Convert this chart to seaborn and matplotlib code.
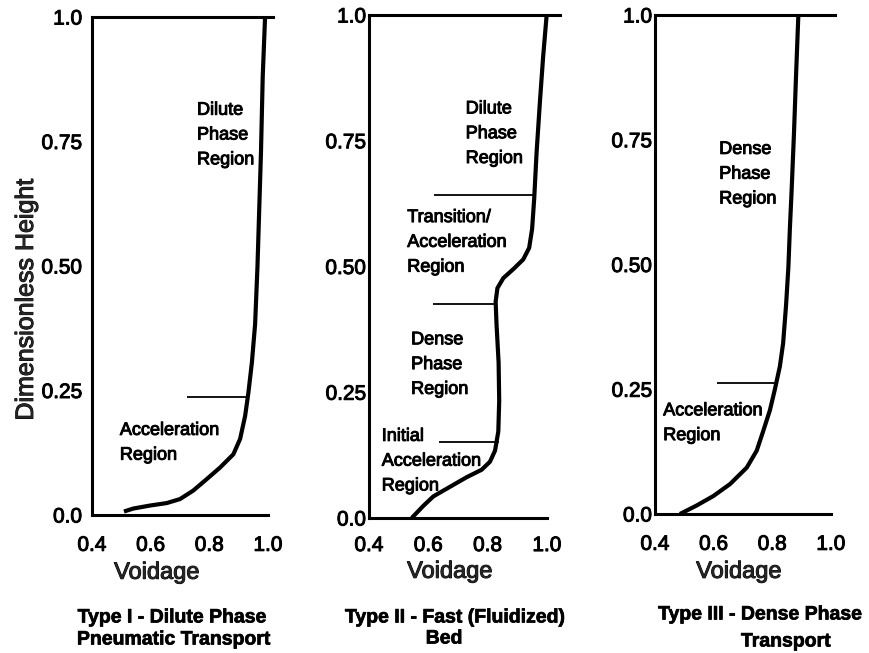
import matplotlib
matplotlib.use("Agg")
import matplotlib.pyplot as plt
import matplotlib.patheffects as pe
from matplotlib import font_manager
import seaborn as sns
import pandas as pd

# ---- Voidage profiles along the riser (x = voidage, y = dimensionless height) ----
type1_voidage = [0.509, 0.541, 0.598, 0.655, 0.700, 0.745, 0.791, 0.836, 0.882, 0.905,
                 0.922, 0.933, 0.945, 0.956, 0.964, 0.970, 0.976, 0.982, 0.990]
type1_height = [0.007, 0.013, 0.019, 0.024, 0.032, 0.049, 0.072, 0.095, 0.122, 0.153,
                0.199, 0.245, 0.306, 0.383, 0.498, 0.613, 0.728, 0.881, 1.0]

type2_voidage = [0.544, 0.583, 0.617, 0.673, 0.729, 0.780, 0.808, 0.825, 0.836, 0.839,
                 0.837, 0.830, 0.827, 0.833, 0.853, 0.887, 0.920, 0.940, 0.950, 0.957,
                 0.965, 0.976, 0.987, 0.999]
type2_height = [0.0, 0.024, 0.043, 0.062, 0.081, 0.096, 0.112, 0.134, 0.172, 0.233,
                0.309, 0.385, 0.430, 0.457, 0.477, 0.495, 0.514, 0.537, 0.575, 0.635,
                0.726, 0.825, 0.916, 1.0]

type3_voidage = [0.485, 0.542, 0.599, 0.656, 0.713, 0.747, 0.769, 0.792, 0.809, 0.826,
                 0.837, 0.847, 0.855, 0.860, 0.866, 0.874, 0.881, 0.889]
type3_height = [0.0, 0.017, 0.036, 0.060, 0.093, 0.127, 0.166, 0.208, 0.250, 0.296,
                0.342, 0.418, 0.495, 0.571, 0.648, 0.762, 0.877, 1.0]

# ---- Region boundaries: height, start voidage, end voidage ----
type1_bounds = [(0.237, 0.724, 0.930)]
type2_bounds = [(0.643, 0.620, 0.956), (0.425, 0.615, 0.828), (0.152, 0.637, 0.839)]
type3_bounds = [(0.263, 0.610, 0.813)]

# ---- Region names: text, left voidage, centre height ----
type1_regions = [("Dilute\nPhase\nRegion", 0.758, 0.763),
                 ("Acceleration\nRegion", 0.495, 0.145)]
type2_regions = [("Dilute\nPhase\nRegion", 0.726, 0.764),
                 ("Transition/\nAcceleration\nRegion", 0.529, 0.548),
                 ("Dense\nPhase\nRegion", 0.542, 0.305),
                 ("Initial\nAcceleration\nRegion", 0.443, 0.113)]
type3_regions = [("Dense\nPhase\nRegion", 0.619, 0.681),
                 ("Acceleration\nRegion", 0.428, 0.182)]

# ---- Axis ticks ----
x_ticks = [0.4, 0.6, 0.8, 1.0]
x_tick_labels = ["0.4", "0.6", "0.8", "1.0"]
y_ticks = [0.0, 0.25, 0.50, 0.75, 1.0]
y_tick_labels = ["0.0", "0.25", "0.50", "0.75", "1.0"]

x_title = "Voidage"
y_title = "Dimensionless Height"

captions = [("Type I - Dilute Phase", "Pneumatic Transport"),
            ("Type II - Fast (Fluidized)", "Bed"),
            ("Type III - Dense Phase", "Transport")]


def available(names):
    for n in names:
        try:
            font_manager.findfont(n, fallback_to_default=False)
            return n
        except Exception:
            continue
    return "DejaVu Sans"


sns.set_theme(style="white")
BODY = available(["Liberation Sans", "Arimo", "DejaVu Sans"])
NARROW = available(["Liberation Sans Narrow", "Arimo", "Liberation Sans"])
plt.rcParams["font.family"] = [BODY, "DejaVu Sans"]
plt.rcParams["axes.edgecolor"] = "black"
plt.rcParams["xtick.color"] = "black"
plt.rcParams["ytick.color"] = "black"

ink = [pe.withStroke(linewidth=0.7, foreground="black")]

fig = plt.figure(figsize=(8.69, 6.53), dpi=100)
W, H = 869.0, 653.0

# panel frames in pixels: left, right end of top rule, top, bottom
frames = [(92, 273, 17, 515), (369, 560, 15, 518), (655, 835, 15, 514)]
x_right = [1.017, 1.044, 1.014]
y_pads = [7, 2, 2]
x_pads = [15, 13, 15]
xlabel_pos = [(0.359, -0.116), (0.424, -0.107), (0.467, -0.116)]

profiles = [(type1_voidage, type1_height), (type2_voidage, type2_height),
            (type3_voidage, type3_height)]
bounds = [type1_bounds, type2_bounds, type3_bounds]
regions = [type1_regions, type2_regions, type3_regions]

axes = []
for i in range(3):
    l, r, t, b = frames[i]
    ax = fig.add_axes([l / W, 1 - b / H, (r - l) / W, (b - t) / H])
    axes.append(ax)
    df = pd.DataFrame({"voidage": profiles[i][0], "height": profiles[i][1]})
    sns.lineplot(data=df, x="voidage", y="height", sort=False, estimator=None,
                 color="black", linewidth=3.0, ax=ax, clip_on=False,
                 solid_capstyle="butt")
    for yb, x0, x1 in bounds[i]:
        ax.hlines(yb, x0, x1, color="black", linewidth=1.3)
    for txt, xl, yc in regions[i]:
        ax.text(xl, yc, txt, ha="left", va="center", fontsize=13,
                linespacing=1.6, color="black", path_effects=ink)

    ax.set_xlim(0.4, x_right[i])
    ax.set_ylim(0.0, 1.0)
    ax.set_xticks(x_ticks)
    ax.set_xticklabels(x_tick_labels)
    ax.set_yticks(y_ticks)
    ax.set_yticklabels(y_tick_labels)
    ax.tick_params(axis="x", direction="in", length=11, width=1.5,
                   pad=x_pads[i], labelsize=15)
    ax.tick_params(axis="y", direction="in", length=10, width=1.5,
                   pad=y_pads[i], labelsize=15)
    for lab in ax.get_xticklabels() + ax.get_yticklabels():
        lab.set_path_effects(ink)

    ax.spines["right"].set_visible(False)
    for s in ["left", "bottom", "top"]:
        ax.spines[s].set_linewidth(2.2)
        ax.spines[s].set_color("black")
    ax.spines["bottom"].set_bounds(0.4, 1.0)

    ax.set_xlabel(x_title, fontsize=17, path_effects=ink)
    ax.xaxis.set_label_coords(*xlabel_pos[i])
    ax.xaxis.label.set_verticalalignment("center")
    if i == 0:
        ax.set_ylabel(y_title, fontsize=18, path_effects=ink)
        ax.yaxis.set_label_coords(-0.365, 0.432)
        ax.yaxis.label.set_verticalalignment("center")
    else:
        ax.set_ylabel("")

# captions under each panel
cap_pos = [((172, 618), (174, 640)), ((455, 618), (444, 639)), ((760, 615), (786, 642))]
for (l1, l2), (p1, p2) in zip(captions, cap_pos):
    for txt, (px, py) in ((l1, p1), (l2, p2)):
        fig.text(px / W, 1 - py / H, txt, ha="center", va="center",
                 fontsize=14, fontweight="bold", family=[NARROW, "DejaVu Sans"],
                 color="black", path_effects=[pe.withStroke(linewidth=0.5, foreground="black")])

fig.savefig("out.png", dpi=100, facecolor="white")
